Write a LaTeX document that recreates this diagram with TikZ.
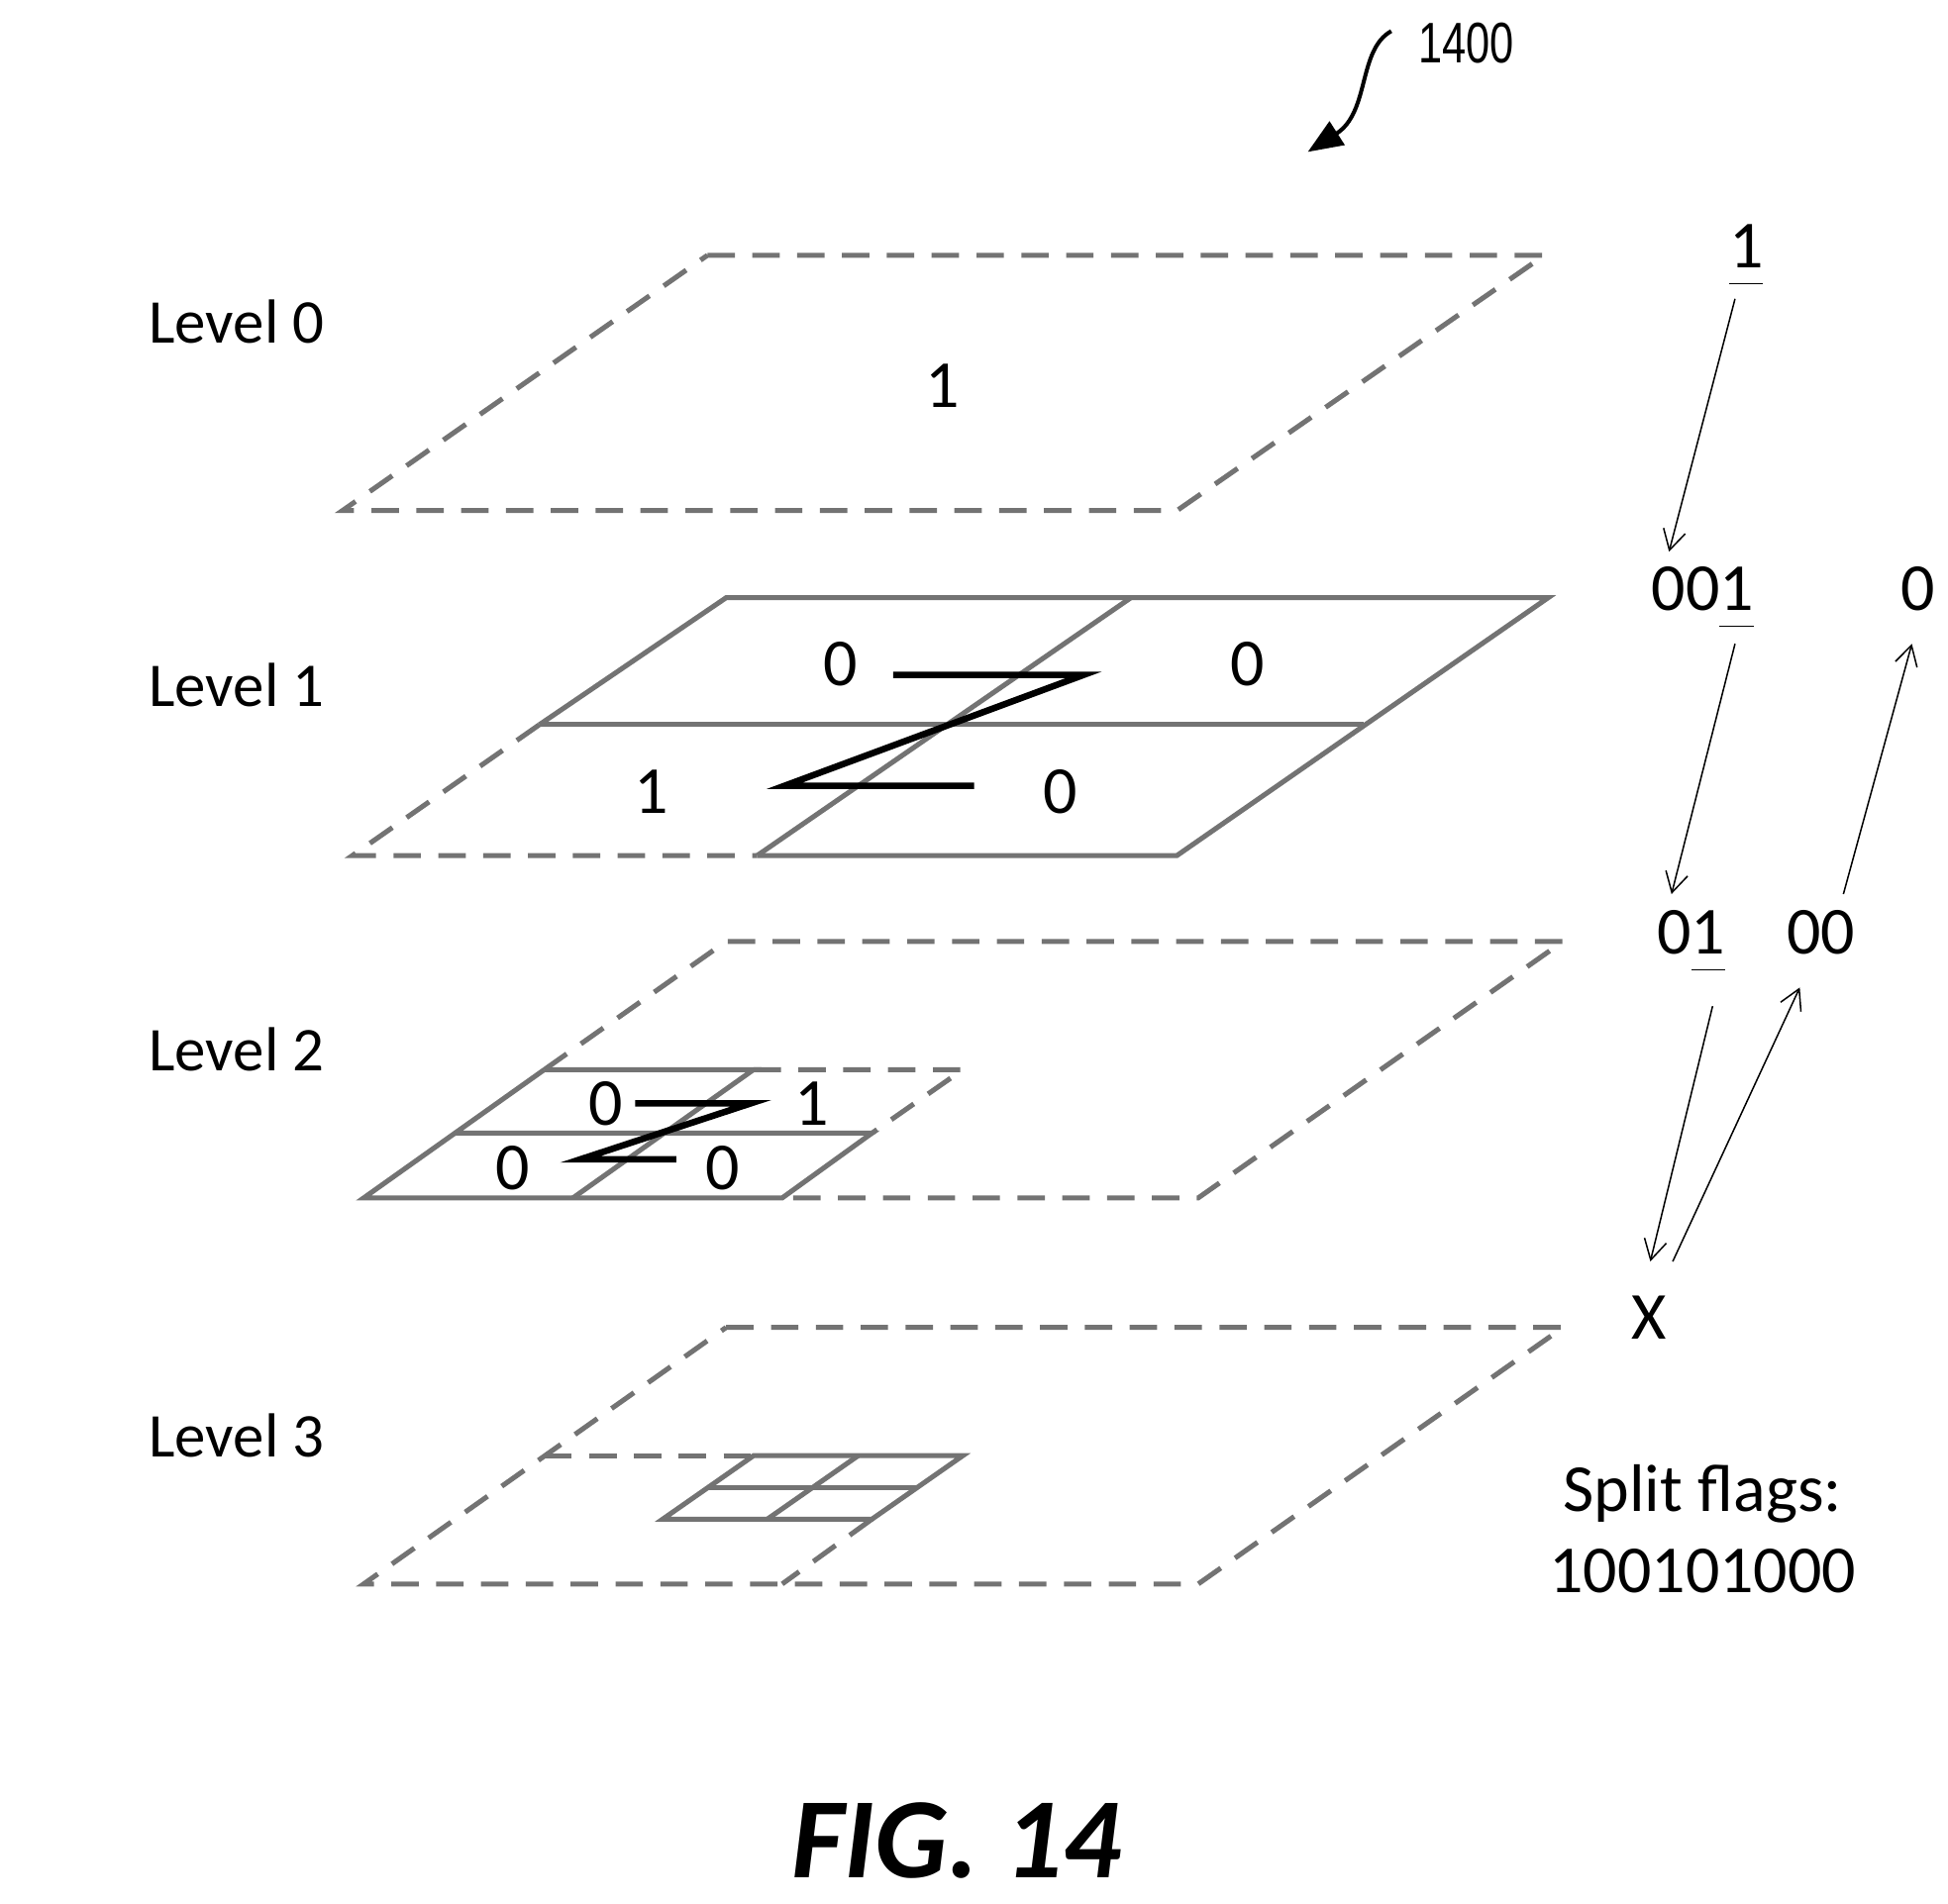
\documentclass[tikz,border=0pt]{standalone}
\usepackage{fontspec}
\setmainfont{Carlito}
\newfontfamily\narrowf[FakeStretch=0.75]{Liberation Sans}
\usetikzlibrary{arrows.meta}
\newcommand{\ul}[1]{\underline{\smash{#1}\vphantom{\rule[-5pt]{0pt}{1pt}}}}
\begin{document}
\begin{tikzpicture}[x=0.5pt,y=-0.5pt,
  ds/.style={draw=black!55,line width=2pt,dash pattern=on 11pt off 7pt},
  sl/.style={draw=black!55,line width=2pt},
  zz/.style={draw=black,line width=2.6pt},
  lbl/.style={font=\fontsize{25}{28}\selectfont},
  num/.style={font=\fontsize{27}{30}\selectfont},
  ar/.style={draw=black,line width=0.6pt,-{Straight Barb[length=8pt,width=9pt]}}]
\useasboundingbox (0,0) rectangle (1564,1529);
% labels
\node[lbl] (l0) at (190,258) {Level 0};
\node[lbl] (l1) at (190,550) {Level 1};
\node[lbl] (l2) at (190,843) {Level 2};
\node[lbl] (l3) at (190,1153) {Level 3};
% Level 0
\draw[ds] (568,205) -- (1240,205) -- (945,410) -- (275,410) -- cycle;
\node[num] (n0) at (757,310) {1};
% Level 1
\draw[sl] (433,582) -- (583,480) -- (1243,480) -- (945,687) -- (608,687);
\draw[sl] (433,582) -- (1095,582);
\draw[sl] (908,480) -- (608,687);
\draw[ds] (433,582) -- (283,687) -- (608,687);
\node[num] (a1) at (675,533) {0};
\node[num] (a2) at (1002,533) {0};
\node[num] (a3) at (523,636) {1};
\node[num] (a4) at (851,636) {0};
\draw[zz] (717,542) -- (870,542) -- (630,631) -- (782,631);
% Level 2
\draw[ds] (437,859) -- (583,756) -- (1255,756) -- (962,962) -- (628,962);
\draw[sl] (437,859) -- (292,962) -- (628,962) -- (700,910) -- (364,910);
\draw[sl] (437,859) -- (605,859) -- (460,962);
\draw[ds] (605,859) -- (773,859) -- (700,910);
\node[num] (b1) at (486,886) {0};
\node[num] (b2) at (652,886) {1};
\node[num] (b3) at (412,938) {0};
\node[num] (b4) at (580,938) {0};
\draw[zz] (510,886) -- (603,886) -- (466,931) -- (543,931);
% Level 3
\draw[ds] (583,1066) -- (1255,1066) -- (962,1272) -- (292,1272) -- cycle;
\draw[ds] (437,1169) -- (605,1169);
\draw[ds] (700,1220) -- (628,1272);
\draw[sl] (605,1169) -- (773,1169) -- (700,1220) -- (532,1220) -- cycle;
\draw[sl] (568,1195) -- (737,1195);
\draw[sl] (689,1169) -- (616,1220);
% right side
\node[num,anchor=base] (r1) at (1402,215) {\ul{1}};
\node[num,anchor=base] (r2) at (1367,490) {00\ul{1}};
\node[num,anchor=base] (r3) at (1540,490) {0};
\node[num,anchor=base] (r4) at (1358,766) {0\ul{1}};
\node[num,anchor=base] (r5) at (1462,766) {00};
\node[num] (rx) at (1324,1058) {X};
\node[num] (sf) at (1367,1200) {Split flags:};
\node[num] (sv) at (1367,1262) {100101000};
\draw[ar] (1393,240) -- (1340,443);
\draw[ar] (1393,517) -- (1342,718);
\draw[ar] (1480,718) -- (1535,517);
\draw[ar] (1375,808) -- (1325,1013);
\draw[ar] (1343,1013) -- (1445,793);
% ref
\node[font=\narrowf\fontsize{23}{26}\selectfont] (ref) at (1177,35) {1400};
\coordinate (rs) at (1117,25);
\coordinate (re) at (1050,122);
\draw[line width=1.6pt,-{Triangle[length=14pt,width=11pt]}] (rs) .. controls (1090,40) and (1100,90) .. (re);
\node[font=\bfseries\itshape\fontsize{46}{50}\selectfont] (fig) at (768,1478) {FIG. 14};
\end{tikzpicture}
\end{document}
